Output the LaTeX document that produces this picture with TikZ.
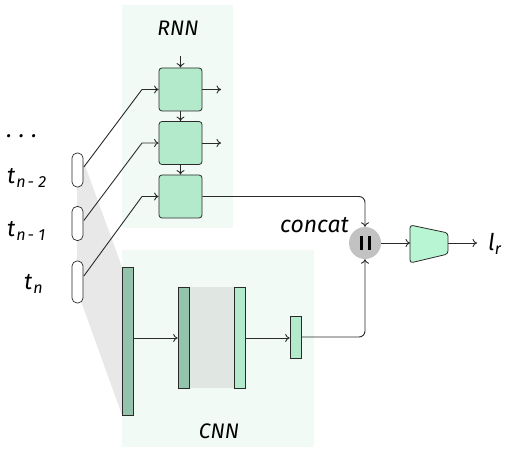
\documentclass[tikz,border=0pt]{standalone}
\usepackage{fontspec}
\setmainfont{Fira Sans}
\usetikzlibrary{arrows.meta}
\definecolor{bgmint}{HTML}{F1FAF5}
\definecolor{cellfill}{HTML}{B2EACB}
\definecolor{darkbar}{HTML}{93C3AA}
\definecolor{midgray}{HTML}{E0E7E2}
\definecolor{shadowgray}{HTML}{E8E8E8}
\definecolor{linecol}{HTML}{2A2A2A}
\definecolor{concatgray}{HTML}{C2C2C2}
\definecolor{trapfill}{HTML}{B8F5D2}
\tikzset{
  lbl/.style={font=\fontsize{21}{22}\selectfont\itshape, text=black, inner sep=0pt},
  biglbl/.style={font=\fontsize{23}{24}\selectfont\itshape, text=black, inner sep=0pt},
  cell/.style={draw=linecol, line width=0.8pt, fill=cellfill, rounded corners=3pt, minimum width=43pt, minimum height=43pt, inner sep=0pt},
  oval/.style={draw=linecol, line width=0.7pt, fill=white, rounded corners=5pt, minimum width=11pt, inner sep=0pt},
  bar/.style={draw=linecol, line width=0.7pt, minimum width=11pt, inner sep=0pt},
  conn/.style={draw=linecol, line width=0.9pt},
  arr/.style={conn, -{To[length=4.5pt,width=8pt]}},
}
\begin{document}
\begin{tikzpicture}[x=1pt,y=-1pt]
\useasboundingbox (0,0) rectangle (506,449);
% backgrounds
\fill[bgmint] (122,5) rectangle (233,228);
\fill[bgmint] (122,250) rectangle (314,447);
\fill[shadowgray] (77,155) -- (83,160) -- (122,267) -- (122,415) -- (77,290) -- cycle;
% labels
\node[lbl] (rnnlbl) at (178,28) {RNN};
\node[lbl] (cnnlbl) at (219,431) {CNN};
\node[biglbl] (dots) at (22,136) {.\hspace{7pt}.\hspace{7pt}.};
\node[biglbl, anchor=west] (l1) at (7,178) {t\textsubscript{\kern1pt n\kern2pt - 2}};
\node[biglbl, anchor=west] (l2) at (7,231) {t\textsubscript{\kern1pt n\kern2pt - 1}};
\node[biglbl, anchor=west] (l3) at (24,284) {t\textsubscript{\kern1pt n}};
% ovals
\node[oval, minimum height=34pt] (o1) at (77.5,170) {};
\node[oval, minimum height=34pt] (o2) at (77.5,223.5) {};
\node[oval, minimum height=42pt] (o3) at (77.5,282) {};
% RNN cells
\node[cell] (c1) at (180.5,89.5) {};
\node[cell] (c2) at (180.5,143) {};
\node[cell] (c3) at (180.5,196.5) {};
\coordinate (top) at (180.5,56);
\draw[arr] (top) -- (c1.north);
\draw[arr] (c1.south) -- (c2.north);
\draw[arr] (c2.south) -- (c3.north);
\coordinate (r1) at (221,89.5);
\coordinate (r2) at (221,143);
\draw[arr] (c1.east) -- (r1);
\draw[arr] (c2.east) -- (r2);
% inputs
\coordinate (k1) at (142,89.5);
\coordinate (k2) at (142,143);
\coordinate (k3) at (142,196.5);
\draw[arr] ([xshift=0.5pt]o1.east) ++(0,-3) -- (k1) -- (c1.west);
\draw[arr] ([xshift=0.5pt]o2.east) ++(0,-3) -- (k2) -- (c2.west);
\draw[arr] ([xshift=0.5pt]o3.east) ++(0,-6) -- (k3) -- (c3.west);
% CNN
\node[bar, fill=darkbar, minimum height=148pt] (b1) at (127.5,341) {};
\fill[midgray] (189,287) rectangle (234,388);
\node[bar, fill=darkbar, minimum height=101pt] (b2) at (183.5,337.5) {};
\node[bar, fill=cellfill, minimum height=101pt] (b3) at (239.5,337.5) {};
\node[bar, fill=cellfill, minimum height=42pt] (b4) at (295.5,337) {};
\draw[arr] (b1.east |- 0,338) -- (b2.west |- 0,338);
\draw[arr] (b3.east |- 0,338) -- (b4.west |- 0,338);
% concat
\node[circle, fill=concatgray, minimum size=32pt, inner sep=0pt] (cc) at (365,243) {};
\fill[black] (359.5,236) rectangle (362.5,250);
\fill[black] (367.5,236) rectangle (370.5,250);
\node[biglbl, anchor=east] (cclbl) at (349,225) {concat};
\draw[arr, rounded corners=6pt] (c3.east) -- (365,196.5) -- (cc.north);
\draw[arr, rounded corners=6pt] (b4.east) -- (365,337) -- (cc.south);
% trapezoid
\draw[draw=linecol, line width=0.8pt, fill=trapfill, rounded corners=3pt] (410,225) -- (448,233) -- (448,254) -- (410,263) -- cycle;
\coordinate (tl) at (410,243);
\coordinate (tr) at (448,243);
\draw[arr] (cc.east) -- (tl);
\coordinate (out) at (477,243);
\draw[arr] (tr) -- (out);
\node[biglbl, anchor=west] (lr) at (488,244) {l\textsubscript{r}};
\end{tikzpicture}
\end{document}
